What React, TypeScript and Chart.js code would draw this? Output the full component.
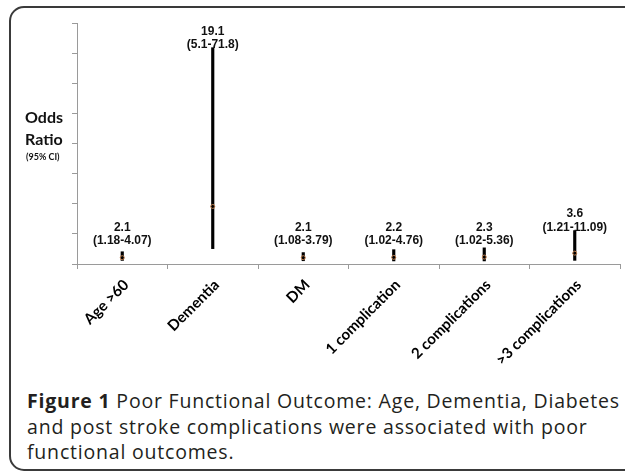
import React, { useEffect, useRef } from "react";
import { Chart, registerables } from "chart.js";

Chart.register(...registerables);

const categories = ["Age >60", "Dementia", "DM", "1 complication", "2 complications", ">3 complications"];
const oddsRatios = [2.1, 19.1, 2.1, 2.2, 2.3, 3.6];
const ciLower = [1.18, 5.1, 1.08, 1.02, 1.02, 1.21];
const ciUpper = [4.07, 71.8, 3.79, 4.76, 5.36, 11.09];
const yMin = 0;
const yMax = 80;
const yStep = 10;

const labelPlugin = {
  id: "orLabels",
  afterDatasetsDraw(chart: any) {
    const { ctx, scales } = chart;
    const xs = scales.x;
    const ys = scales.y;
    ctx.save();
    ctx.fillStyle = "#111";
    ctx.textAlign = "center";
    ctx.textBaseline = "middle";
    ctx.font = "bold 12px 'Liberation Sans', Arial, sans-serif";
    const floor = ys.getPixelForValue(yMin) - 23;
    categories.forEach((_, i) => {
      const x = xs.getPixelForValue(i);
      const y = Math.min(ys.getPixelForValue(ciUpper[i]) - 3, floor);
      ctx.fillText(`(${ciLower[i]}-${ciUpper[i]})`, x, y);
      ctx.fillText(String(oddsRatios[i]), x, y - 13.5);
    });
    // axis title
    ctx.textAlign = "left";
    ctx.fillStyle = "#111";
    ctx.font = "bold 16px Lato, sans-serif";
    ctx.fillText("Odds", 25, 118);
    ctx.fillText("Ratio", 25, 140);
    ctx.font = "bold 9px Lato, sans-serif";
    ctx.fillText("(95% CI)", 26, 157);
    ctx.restore();
  },
};

function ChartView() {
  const ref = useRef<HTMLCanvasElement | null>(null);
  useEffect(() => {
    if (!ref.current) return;
    const chart = new Chart(ref.current, {
      type: "bar",
      data: {
        labels: categories,
        datasets: [
          {
            type: "line",
            label: "Odds ratio",
            data: oddsRatios,
            showLine: false,
            pointRadius: 2,
            pointBackgroundColor: "#000",
            pointBorderColor: "#c08050",
            pointBorderWidth: 1,
            order: 0,
          } as any,
          {
            type: "bar",
            label: "95% CI",
            data: ciLower.map((l, i) => [l, ciUpper[i]]),
            backgroundColor: "#000",
            borderWidth: 0,
            barThickness: 2.5,
            order: 1,
          } as any,
        ],
      },
      options: {
        animation: false,
        responsive: true,
        maintainAspectRatio: false,
        layout: { padding: { left: 72, top: 23, right: 4, bottom: 0 } },
        plugins: { legend: { display: false }, tooltip: { enabled: false } },
        scales: {
          x: {
            type: "category",
            offset: true,
            grid: { offset: true, drawOnChartArea: false, tickLength: 5, color: "#9a9a9a" },
            border: { color: "#9a9a9a" },
            ticks: {
              autoSkip: false,
              minRotation: 45,
              maxRotation: 45,
              padding: 7,
              labelOffset: 4,
              color: "#000",
              font: { family: "Lato, sans-serif", size: 15, weight: "bold" },
            },
            afterFit: (s: any) => {
              s.height = 120;
            },
          },
          y: {
            type: "linear",
            min: yMin,
            max: yMax,
            ticks: { stepSize: yStep, display: false },
            grid: { drawOnChartArea: false, tickLength: 5, color: "#9a9a9a" },
            border: { color: "#9a9a9a" },
            afterFit: (s: any) => {
              s.width = 5;
            },
          },
        },
      } as any,
      plugins: [labelPlugin],
    });
    return () => chart.destroy();
  }, []);
  return <canvas ref={ref} />;
}

export default function App() {
  return (
    <div
      style={{
        position: "fixed",
        left: 0,
        top: 0,
        width: 625,
        height: 473,
        overflow: "hidden",
        background: "#fff",
      }}
    >
      <div
        style={{
          position: "absolute",
          left: 9,
          top: 6,
          width: 660,
          height: 461,
          border: "2px solid #3a3a3a",
          borderRadius: 15,
        }}
      />
      <div style={{ position: "absolute", left: 0, top: 0, width: 625, height: 384 }}>
        <ChartView />
      </div>
      <div
        style={{
          position: "absolute",
          left: 27,
          top: 388,
          whiteSpace: "nowrap",
          fontFamily: "'Open Sans', sans-serif",
          fontSize: 19.5,
          lineHeight: "25.5px",
          color: "#231f20",
          letterSpacing: 0.8,
        }}
      >
        <b>Figure 1</b> Poor Functional Outcome: Age, Dementia, Diabetes
        <br />
        and post stroke complications were associated with poor
        <br />
        functional outcomes.
      </div>
    </div>
  );
}
